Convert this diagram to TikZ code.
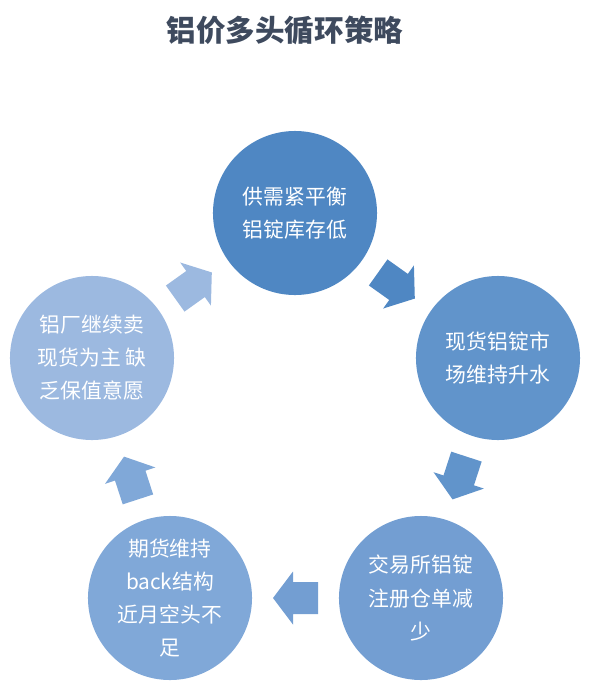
\documentclass[tikz,border=0pt]{standalone}
\usepackage{fontspec}
\usepackage{xcolor}
\usepackage{tikz}
\usetikzlibrary{calc}
\newfontfamily\cjk{Noto Sans CJK SC}
\definecolor{TitleInk}{HTML}{3E4A5E}
\definecolor{StageOne}{HTML}{4F87C3}
\definecolor{StageTwo}{HTML}{6194CB}
\definecolor{StageThree}{HTML}{739ED2}
\definecolor{StageFour}{HTML}{80A8D8}
\definecolor{StageFive}{HTML}{9CB9E0}
% block arrow half way between two stages, pointing from #1 to #2
\newcommand{\CycleArrow}[4]{%
  \fill[#4,shift={($(#1)!0.5!(#2)$)},rotate=#3]
    (-22.5,16) -- (2.5,16) -- (2.5,26.5) -- (22.5,0) -- (2.5,-26.5) -- (2.5,-16) -- (-22.5,-16) -- cycle;%
}
\tikzset{
  figure/.style={x=0.025cm,y=-0.025cm,font=\cjk},
  stage/.style={circle,minimum size=4.1cm,inner sep=0pt,align=center,text=white,
    font=\cjk\fontsize{14.8}{23.5}\selectfont},
}

\begin{document}
\begin{tikzpicture}[figure]
  \useasboundingbox (0,0) rectangle (596,700);

  \node[font=\cjk\bfseries\fontsize{21}{25}\selectfont,text=TitleInk] (title) at (285,30)
    {铝价多头循环策略};

  \node[stage,fill=StageOne] (T) at (295,213) {供需紧平衡\\铝锭库存低};
  \node[stage,fill=StageTwo] (R) at (498,358) {现货铝锭市\\场维持升水};
  \node[stage,fill=StageThree] (BR) at (421,598) {交易所铝锭\\注册仓单减\\少};
  \node[stage,fill=StageFour] (BL) at (170,598) {期货维持\\back结构\\近月空头不\\足};
  \node[stage,fill=StageFive] (L) at (92,358) {铝厂继续卖\\现货为主 缺\\乏保值意愿};

  \CycleArrow{T}{R}{-35.5}{StageOne}
  \CycleArrow{R}{BR}{-108}{StageTwo}
  \CycleArrow{BR}{BL}{180}{StageThree}
  \CycleArrow{BL}{L}{108}{StageFour}
  \CycleArrow{L}{T}{35.5}{StageFive}
\end{tikzpicture}
\end{document}
